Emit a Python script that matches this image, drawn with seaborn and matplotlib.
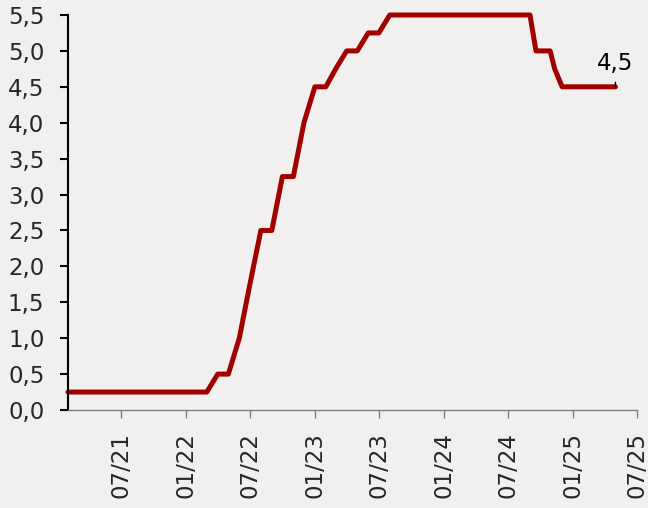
import pandas as pd
import matplotlib
matplotlib.use('Agg')
import matplotlib.pyplot as plt
import matplotlib.dates as mdates
from matplotlib.ticker import FuncFormatter
import seaborn as sns

# Policy rate (upper bound)
dates = [
    '2021-02-01', '2021-03-01', '2021-04-01', '2021-05-01', '2021-06-01',
    '2021-07-01', '2021-08-01', '2021-09-01', '2021-10-01', '2021-11-01',
    '2021-12-01', '2022-01-01', '2022-02-01', '2022-03-01', '2022-04-01',
    '2022-05-01', '2022-06-01', '2022-07-01', '2022-08-01', '2022-09-01',
    '2022-10-01', '2022-11-01', '2022-12-01', '2023-01-01', '2023-02-01',
    '2023-03-01', '2023-04-01', '2023-05-01', '2023-06-01', '2023-07-01',
    '2023-08-01', '2023-09-01', '2023-10-01', '2023-11-01', '2023-12-01',
    '2024-01-01', '2024-02-01', '2024-03-01', '2024-04-01', '2024-05-01',
    '2024-06-01', '2024-07-01', '2024-08-01', '2024-09-01', '2024-09-18',
    '2024-10-01', '2024-10-28', '2024-11-10', '2024-12-01', '2025-01-01',
    '2025-02-01', '2025-03-01', '2025-04-01', '2025-05-01',
]
rate = [
    0.25, 0.25, 0.25, 0.25, 0.25,
    0.25, 0.25, 0.25, 0.25, 0.25,
    0.25, 0.25, 0.25, 0.25, 0.50,
    0.50, 1.00, 1.75, 2.50, 2.50,
    3.25, 3.25, 4.00, 4.50, 4.50,
    4.75, 5.00, 5.00, 5.25, 5.25,
    5.50, 5.50, 5.50, 5.50, 5.50,
    5.50, 5.50, 5.50, 5.50, 5.50,
    5.50, 5.50, 5.50, 5.50, 5.00,
    5.00, 5.00, 4.75, 4.50, 4.50,
    4.50, 4.50, 4.50, 4.50,
]
x_start = '2021-02-01'
x_end = '2025-07-01'
y_ticks = [0, 0.5, 1, 1.5, 2, 2.5, 3, 3.5, 4, 4.5, 5, 5.5]

df = pd.DataFrame({'date': pd.to_datetime(dates), 'rate': rate})

bg = '#f2f0ef'
red = '#a00000'

sns.set_style('ticks')
plt.rcParams['font.family'] = ['DejaVu Sans']

fig = plt.figure(figsize=(6.48, 5.08), dpi=100, facecolor=bg)
ax = fig.add_axes([68/648, 98/508, 569/648, 395/508])
ax.set_facecolor(bg)

sns.lineplot(data=df, x='date', y='rate', ax=ax,
             color=red, linewidth=3.6, clip_on=False)

ax.set_xlim(pd.Timestamp(x_start), pd.Timestamp(x_end))
ax.set_ylim(0, 5.5)
ax.set_yticks(y_ticks)
ax.yaxis.set_major_formatter(
    FuncFormatter(lambda v, p: f'{v:.1f}'.replace('.', ',')))
ax.xaxis.set_major_locator(mdates.MonthLocator(bymonth=[1, 7]))
ax.xaxis.set_major_formatter(mdates.DateFormatter('%m/%y'))
ax.set_xlabel('')
ax.set_ylabel('')

for s in ['top', 'right']:
    ax.spines[s].set_visible(False)
ax.spines['left'].set_color('black')
ax.spines['left'].set_linewidth(1.5)
ax.spines['bottom'].set_color('#808080')
ax.spines['bottom'].set_linewidth(1.0)

ax.tick_params(axis='y', length=6, width=1.5, color='black',
               labelsize=16.5, pad=11)
ax.tick_params(axis='x', length=6, width=1.0, color='#808080',
               labelsize=16.5, pad=10, labelrotation=90)

# End label
last_x = df['date'].iloc[-1]
last_y = df['rate'].iloc[-1]
ax.annotate(f'{last_y:.1f}'.replace('.', ','),
            xy=(last_x, last_y), xytext=(0, 17),
            textcoords='offset pixels', ha='center', va='baseline',
            fontsize=16.5, color='black',
            arrowprops=dict(arrowstyle='-', color='black', lw=1,
                            shrinkA=3, shrinkB=0))

plt.savefig('out.png', dpi=100, facecolor=bg)
